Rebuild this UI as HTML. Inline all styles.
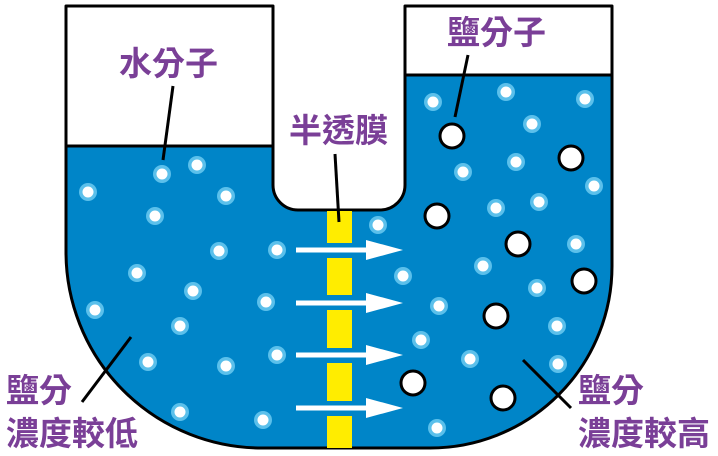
<!DOCTYPE html>
<html><head><meta charset="utf-8"><style>
body{margin:0;background:#fff}
svg{display:block}
text{font-family:"Liberation Sans","Noto Sans CJK TC",sans-serif;font-weight:bold;fill:#7a3f97}
</style></head><body>
<svg width="718" height="456" viewBox="0 0 718 456" xmlns="http://www.w3.org/2000/svg">
<defs>
<g id="w"><circle r="9" fill="#5bc0eb"/><circle r="5.5" fill="#fff"/></g>
<g id="s"><circle r="12" fill="#fff" stroke="#000" stroke-width="3"/></g>
<clipPath id="c"><path d="M66,6 V252 A196,196 0 0 0 262,448 H430 A182,182 0 0 0 612,266 V6 H405 V185 A25,25 0 0 1 380,210 H298 A25,25 0 0 1 273,185 V6 Z"/></clipPath>
</defs>
<g clip-path="url(#c)">
<rect x="0" y="146" width="340" height="320" fill="#0085c8"/>
<rect x="340" y="75" width="300" height="400" fill="#0085c8"/>
</g>
<line x1="66" y1="146" x2="273" y2="146" stroke="#000" stroke-width="3"/>
<line x1="405" y1="75" x2="612" y2="75" stroke="#000" stroke-width="3"/>
<path d="M66,6 V252 A196,196 0 0 0 262,448 H430 A182,182 0 0 0 612,266 V6 H405 V185 A25,25 0 0 1 380,210 H298 A25,25 0 0 1 273,185 V6 Z" fill="none" stroke="#000" stroke-width="3" stroke-linejoin="round"/>
<g fill="#ffed00">
<rect x="327" y="211" width="25" height="32"/><rect x="327" y="258" width="25" height="37"/><rect x="327" y="310" width="25" height="38"/><rect x="327" y="363" width="25" height="38"/><rect x="327" y="416" width="25" height="32"/>
</g>
<g fill="#fff" stroke="#fff">
<line x1="296" y1="250" x2="370" y2="250" stroke-width="5"/><polygon points="366,240 403,250 366,260" stroke="none"/>
<line x1="296" y1="303" x2="370" y2="303" stroke-width="5"/><polygon points="366,293 403,303 366,313" stroke="none"/>
<line x1="296" y1="355" x2="370" y2="355" stroke-width="5"/><polygon points="366,345 403,355 366,365" stroke="none"/>
<line x1="296" y1="408" x2="370" y2="408" stroke-width="5"/><polygon points="366,398 403,408 366,418" stroke="none"/>
</g>
<g>
<use href="#w" x="88" y="192"/><use href="#w" x="162" y="174"/><use href="#w" x="197" y="165"/><use href="#w" x="226" y="196"/><use href="#w" x="155" y="216"/>
<use href="#w" x="219" y="251"/><use href="#w" x="277" y="250"/><use href="#w" x="137" y="273"/><use href="#w" x="193" y="291"/><use href="#w" x="95" y="310"/><use href="#w" x="266" y="302"/><use href="#w" x="180" y="326"/><use href="#w" x="148" y="362"/><use href="#w" x="226" y="366"/><use href="#w" x="277" y="355"/><use href="#w" x="180" y="412"/><use href="#w" x="263" y="420"/>
<use href="#w" x="378" y="225"/><use href="#w" x="403" y="276"/><use href="#w" x="439" y="306"/><use href="#w" x="421" y="340"/><use href="#w" x="470" y="359"/><use href="#w" x="437" y="428"/><use href="#w" x="558" y="364"/>
<use href="#w" x="433" y="102"/><use href="#w" x="506" y="92"/><use href="#w" x="585" y="99"/><use href="#w" x="532" y="124"/><use href="#w" x="463" y="172"/><use href="#w" x="516" y="162"/><use href="#w" x="594" y="186"/><use href="#w" x="496" y="208"/><use href="#w" x="539" y="202"/><use href="#w" x="576" y="244"/><use href="#w" x="483" y="266"/><use href="#w" x="537" y="288"/><use href="#w" x="557" y="326"/>
</g>
<g>
<use href="#s" x="452" y="136"/><use href="#s" x="571" y="158"/><use href="#s" x="437" y="216"/><use href="#s" x="518" y="244"/><use href="#s" x="584" y="281"/><use href="#s" x="496" y="316"/><use href="#s" x="413" y="383"/><use href="#s" x="503" y="398"/>
</g>
<g stroke="#000" stroke-width="3">
<line x1="173" y1="86" x2="163" y2="160"/>
<line x1="468" y1="55" x2="455" y2="117"/>
<line x1="335" y1="154" x2="339" y2="222"/>
<line x1="131" y1="337" x2="82" y2="402"/>
<line x1="523" y1="360" x2="571" y2="408"/>
</g>
<text x="119" y="75" font-size="33">水分子</text>
<text x="447" y="44" font-size="33">鹽分子</text>
<text x="289" y="142" font-size="33">半透膜</text>
<text x="6" y="402" font-size="33">鹽分</text>
<text x="6" y="445" font-size="33">濃度較低</text>
<text x="578" y="402" font-size="33">鹽分</text>
<text x="578" y="445" font-size="33">濃度較高</text>
</svg>
</body></html>
